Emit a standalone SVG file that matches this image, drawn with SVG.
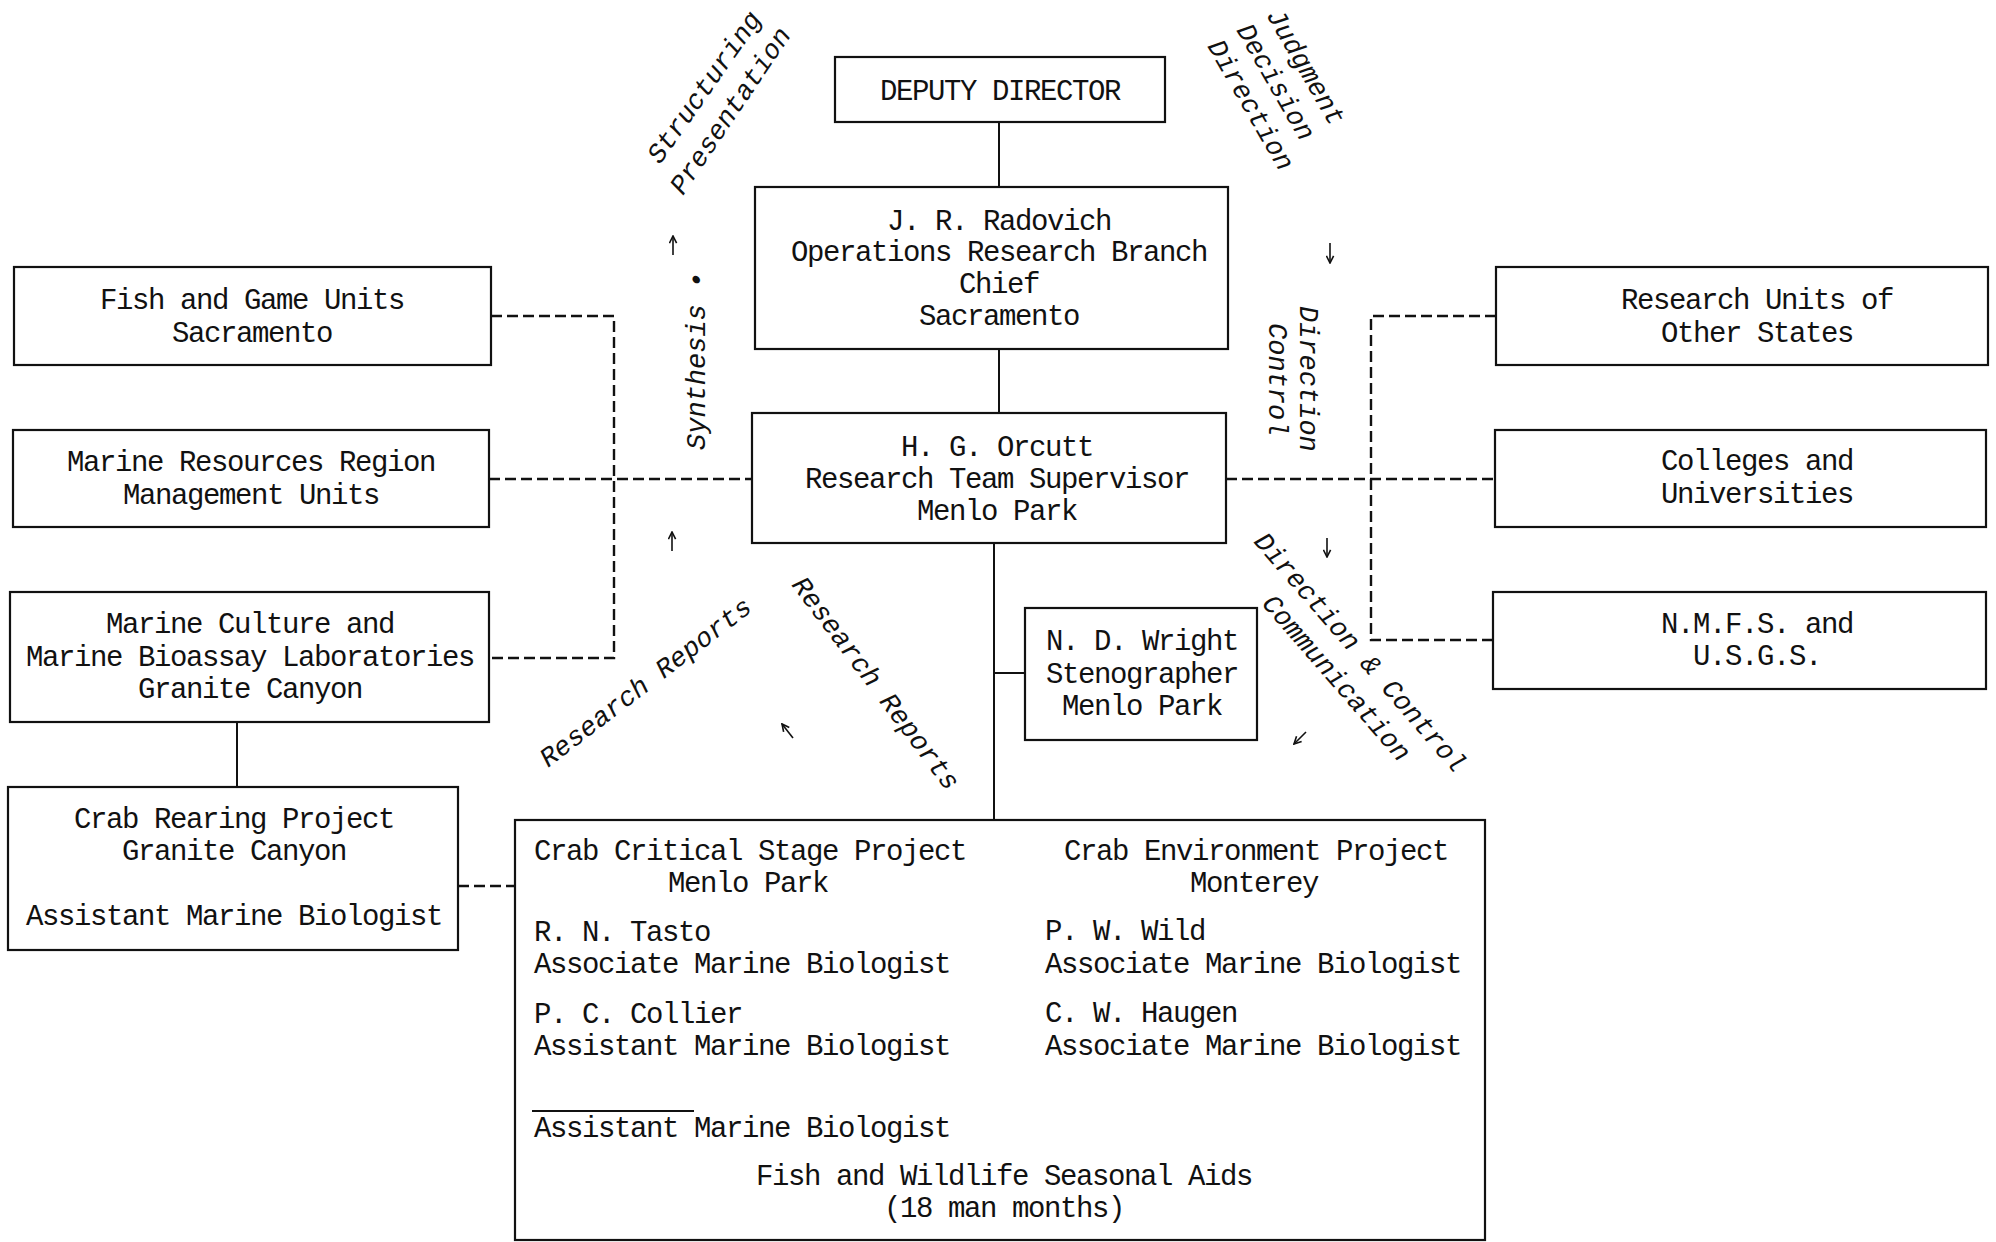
<svg xmlns="http://www.w3.org/2000/svg" width="1996" height="1242" viewBox="0 0 1996 1242">
<style>
.box{fill:#fff;stroke:#111;stroke-width:2.2}
.t{font-family:"Liberation Mono","Courier New",monospace;font-size:29px;letter-spacing:-1.4px;fill:#111}
.c{text-anchor:middle}
.s{font-family:"Liberation Mono","Courier New",monospace;font-style:italic;font-size:27px;fill:#111}
.solid{fill:none;stroke:#111;stroke-width:2}
.dash{fill:none;stroke:#111;stroke-width:2.4;stroke-dasharray:11 5}
.arr{fill:none;stroke:#111;stroke-width:1.6;marker-end:url(#ah)}
</style>
<defs>
<marker id="ah" viewBox="0 0 10 10" refX="9" refY="5" markerWidth="9" markerHeight="9" orient="auto" markerUnits="userSpaceOnUse">
<path d="M1,1 L9,5 L1,9" fill="none" stroke="#111" stroke-width="1.8"/>
</marker>
</defs>
<rect width="1996" height="1242" fill="#fff"/>
<g id="connectors">
<path class="solid" d="M999,122 V187"/>
<path class="solid" d="M999,349 V413"/>
<path class="solid" d="M994,543 V820"/>
<path class="solid" d="M994,673 H1025"/>
<path class="solid" d="M237,722 V787"/>
<path class="dash" d="M491,316 H614 V658 H489"/>
<path class="dash" d="M489,479 H752"/>
<path class="dash" d="M458,886 H515"/>
<path class="dash" d="M1226,479 H1495"/>
<path class="dash" d="M1496,316 H1371 V640 H1493"/>
</g>
<g id="arrows">
<path class="arr" d="M673,255 V236"/>
<path class="arr" d="M672,551 V532"/>
<path class="arr" d="M1330,243 V263"/>
<path class="arr" d="M1327,538 V557"/>
<path class="arr" d="M793,738 L782,724"/>
<path class="arr" d="M1306,732 L1294,744"/>
</g>
<g id="flow-labels">
<text class="s" transform="translate(660,165) rotate(-55)">Structuring</text>
<text class="s" transform="translate(683,196) rotate(-56)">Presentation</text>
<text class="s" transform="translate(1266,15) rotate(60)">Judgment</text>
<text class="s" transform="translate(1236,30) rotate(60)">Decision</text>
<text class="s" transform="translate(1207,46) rotate(60)">Direction</text>
<text class="s" transform="translate(705,450) rotate(-90)">Synthesis •</text>
<text class="s" transform="translate(1300,306) rotate(90)">Direction</text>
<text class="s" transform="translate(1269,323) rotate(90)">Control</text>
<text class="s" transform="translate(548,768) rotate(-37.5)">Research Reports</text>
<text class="s" transform="translate(791,585) rotate(53)">Research Reports</text>
<text class="s" transform="translate(1253,542) rotate(49)">Direction &amp; Control</text>
<text class="s" transform="translate(1261,604) rotate(49)">Communication</text>
</g>
<g id="deputy-director">
<rect class="box" x="835" y="57" width="330" height="65"/>
<text class="t c" x="1000" y="100">DEPUTY DIRECTOR</text>
</g>
<g id="radovich">
<rect class="box" x="755" y="187" width="473" height="162"/>
<text class="t c" x="999" y="230">J. R. Radovich</text>
<text class="t c" x="999" y="261">Operations Research Branch</text>
<text class="t c" x="999" y="293">Chief</text>
<text class="t c" x="999" y="325">Sacramento</text>
</g>
<g id="orcutt">
<rect class="box" x="752" y="413" width="474" height="130"/>
<text class="t c" x="997" y="456">H. G. Orcutt</text>
<text class="t c" x="997" y="488">Research Team Supervisor</text>
<text class="t c" x="997" y="520">Menlo Park</text>
</g>
<g id="wright">
<rect class="box" x="1025" y="608" width="232" height="132"/>
<text class="t c" x="1142" y="650">N. D. Wright</text>
<text class="t c" x="1142" y="683">Stenographer</text>
<text class="t c" x="1142" y="715">Menlo Park</text>
</g>
<g id="fish-game">
<rect class="box" x="14" y="267" width="477" height="98"/>
<text class="t c" x="252" y="309">Fish and Game Units</text>
<text class="t c" x="252" y="342">Sacramento</text>
</g>
<g id="marine-resources">
<rect class="box" x="13" y="430" width="476" height="97"/>
<text class="t c" x="251" y="471">Marine Resources Region</text>
<text class="t c" x="251" y="504">Management Units</text>
</g>
<g id="marine-culture">
<rect class="box" x="10" y="592" width="479" height="130"/>
<text class="t c" x="250" y="633">Marine Culture and</text>
<text class="t c" x="250" y="666">Marine Bioassay Laboratories</text>
<text class="t c" x="250" y="698">Granite Canyon</text>
</g>
<g id="crab-rearing">
<rect class="box" x="8" y="787" width="450" height="163"/>
<text class="t c" x="234" y="828">Crab Rearing Project</text>
<text class="t c" x="234" y="860">Granite Canyon</text>
<text class="t c" x="234" y="925">Assistant Marine Biologist</text>
</g>
<g id="research-units">
<rect class="box" x="1496" y="267" width="492" height="98"/>
<text class="t c" x="1757" y="309">Research Units of</text>
<text class="t c" x="1757" y="342">Other States</text>
</g>
<g id="colleges">
<rect class="box" x="1495" y="430" width="491" height="97"/>
<text class="t c" x="1757" y="470">Colleges and</text>
<text class="t c" x="1757" y="503">Universities</text>
</g>
<g id="nmfs">
<rect class="box" x="1493" y="592" width="493" height="97"/>
<text class="t c" x="1757" y="633">N.M.F.S. and</text>
<text class="t c" x="1757" y="665">U.S.G.S.</text>
</g>
<g id="crab-projects">
<rect class="box" x="515" y="820" width="970" height="420"/>
<text class="t" x="534" y="860">Crab Critical Stage Project</text>
<text class="t c" x="748" y="892">Menlo Park</text>
<text class="t" x="534" y="941">R. N. Tasto</text>
<text class="t" x="534" y="973">Associate Marine Biologist</text>
<text class="t" x="534" y="1023">P. C. Collier</text>
<text class="t" x="534" y="1055">Assistant Marine Biologist</text>
<path class="solid" d="M532,1111 H694"/>
<text class="t" x="534" y="1137">Assistant Marine Biologist</text>
<text class="t c" x="1256" y="860">Crab Environment Project</text>
<text class="t c" x="1254" y="892">Monterey</text>
<text class="t" x="1045" y="940">P. W. Wild</text>
<text class="t" x="1045" y="973">Associate Marine Biologist</text>
<text class="t" x="1045" y="1022">C. W. Haugen</text>
<text class="t" x="1045" y="1055">Associate Marine Biologist</text>
<text class="t c" x="1004" y="1185">Fish and Wildlife Seasonal Aids</text>
<text class="t c" x="1004" y="1217">(18 man months)</text>
</g>
</svg>
